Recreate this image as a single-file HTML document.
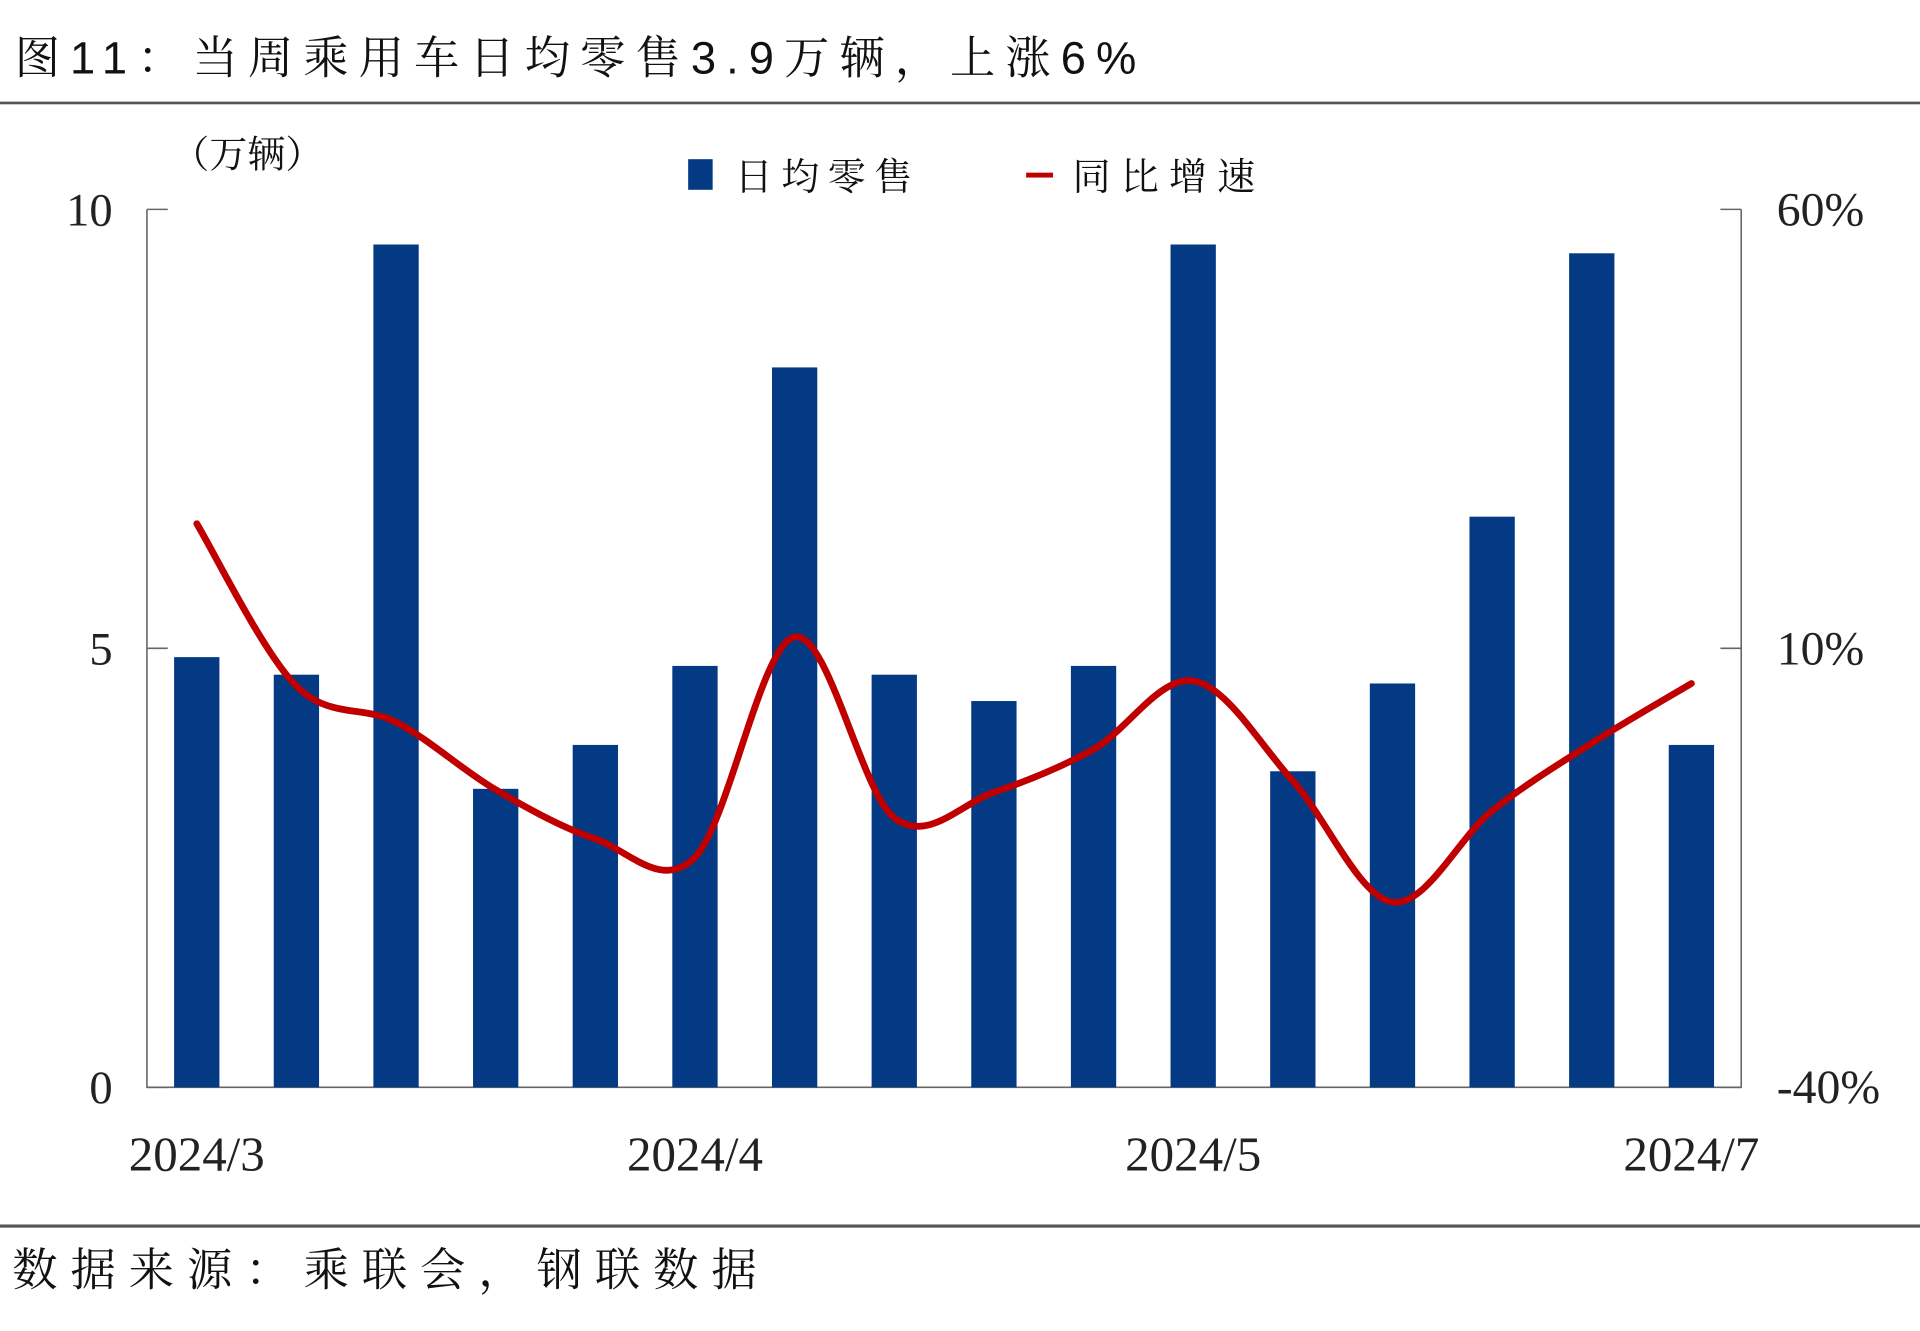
<!DOCTYPE html>
<html><head><meta charset="utf-8"><style>
html,body{margin:0;padding:0;background:#fff;}
svg{display:block;}
text{font-family:"Liberation Serif","Noto Serif CJK SC",serif;fill:#222;}
.cjk{font-family:"Liberation Sans","Noto Serif CJK SC",sans-serif;fill:#111;}
</style></head><body>
<svg id="chart" width="1920" height="1331" viewBox="0 0 1568 1087" preserveAspectRatio="none" xmlns="http://www.w3.org/2000/svg">
<text class="cjk" x="12" y="60" font-size="37" textLength="916" lengthAdjust="spacing">图11：当周乘用车日均零售3.9万辆，上涨6%</text>
<rect x="0" y="83" width="1568" height="2.2" fill="#555"/>
<rect x="0" y="1000" width="1568" height="2.6" fill="#555"/>
<text class="cjk" x="10" y="1050" font-size="37" textLength="608" lengthAdjust="spacing">数据来源：乘联会，钢联数据</text>
<text class="cjk" x="140" y="137" font-size="31" fill="#333" textLength="124" lengthAdjust="spacing">（万辆）</text>
<rect x="562" y="130" width="20" height="25" fill="#033a83"/>
<text class="cjk" x="600" y="155" font-size="31" fill="#333" textLength="145" lengthAdjust="spacing">日均零售</text>
<rect x="838" y="141" width="22" height="4" fill="#c00000"/>
<text class="cjk" x="876" y="155" font-size="31" fill="#333" textLength="149" lengthAdjust="spacing">同比增速</text>
<g id="axes"></g>
<g id="bars"></g>
<g id="line"></g>
</svg>
<script>
const categories = ["2024/3 w1","w2","w3","w4","2024/4 w1","w2","w3","w4","w5","2024/5 w1","w2","w3","w4","w5","2024/7 w1","w2"];
const xLabels = ["2024/3","","","","","2024/4","","","","","2024/5","","","","","2024/7"];
const salesValues = [4.9,4.7,9.6,3.4,3.9,4.8,8.2,4.7,4.4,4.8,9.6,3.6,4.6,6.5,9.5,3.9];
const growthValues = [24.2,5.7,1.6,-6.1,-11.7,-13.8,11.3,-9.3,-6.4,-1.5,6.3,-5.1,-18.9,-8.5,-0.8,6.0];
const leftTicks = [0,5,10];
const rightTicks = [-40,10,60];
const rightTickLabels = ["-40%","10%","60%"];

const NS="http://www.w3.org/2000/svg";
const L=120,R=1422,T=171,B=888;
const band=(R-L)/categories.length;
const xC=i=>L+band*(i+0.5);
const yL=v=>B-(v/10)*(B-T);
const yR=v=>B-((v+40)/100)*(B-T);
function mk(tag,attrs,parent){const e=document.createElementNS(NS,tag);for(const k in attrs)e.setAttribute(k,attrs[k]);parent.appendChild(e);return e;}
const axes=document.getElementById('axes');
let e;
e=mk('path',{d:`M${L},${T}V${B}H${R}V${T}`,fill:'none',stroke:'#666','stroke-width':1.3},axes);


leftTicks.forEach(v=>{
  const y=yL(v);
  e=mk('line',{x1:L,x2:L+17,y1:y,y2:y,stroke:'#666','stroke-width':1.3},axes);
  
  
  e=mk('text',{x:92,y:y+13,'text-anchor':'end','font-size':38},axes);
  e.textContent=v;
  
  
});
rightTicks.forEach((v,i)=>{
  const y=yR(v);
  e=mk('line',{x1:R-17,x2:R,y1:y,y2:y,stroke:'#666','stroke-width':1.3},axes);
  
  
  e=mk('text',{x:1451,y:y+13,'font-size':39},axes);
  e.textContent=rightTickLabels[i];
  
  
});
xLabels.forEach((s,i)=>{
  if(!s)return;
  e=mk('text',{x:xC(i),y:956,'text-anchor':'middle','font-size':40},axes);
  e.textContent=s;
  
  
});
const bars=document.getElementById('bars');
salesValues.forEach((v,i)=>{
  e=mk('rect',{x:xC(i)-18.5,y:yL(v),width:37,height:B-yL(v),fill:'#033a83'},bars);
  
  
});
const pts=growthValues.map((v,i)=>[xC(i),yR(v)]);
let d=`M${pts[0][0]},${pts[0][1]}`;
for(let i=0;i<pts.length-1;i++){
  const p0=pts[Math.max(0,i-1)],p1=pts[i],p2=pts[i+1],p3=pts[Math.min(pts.length-1,i+2)];
  const t=6;
  d+=`C${p1[0]+(p2[0]-p0[0])/t},${p1[1]+(p2[1]-p0[1])/t} ${p2[0]-(p3[0]-p1[0])/t},${p2[1]-(p3[1]-p1[1])/t} ${p2[0]},${p2[1]}`;
}
e=mk('path',{d:d,fill:'none',stroke:'#c00000','stroke-width':5.5,'stroke-linecap':'round','stroke-linejoin':'round'},document.getElementById('line'));


</script>
</body></html>
